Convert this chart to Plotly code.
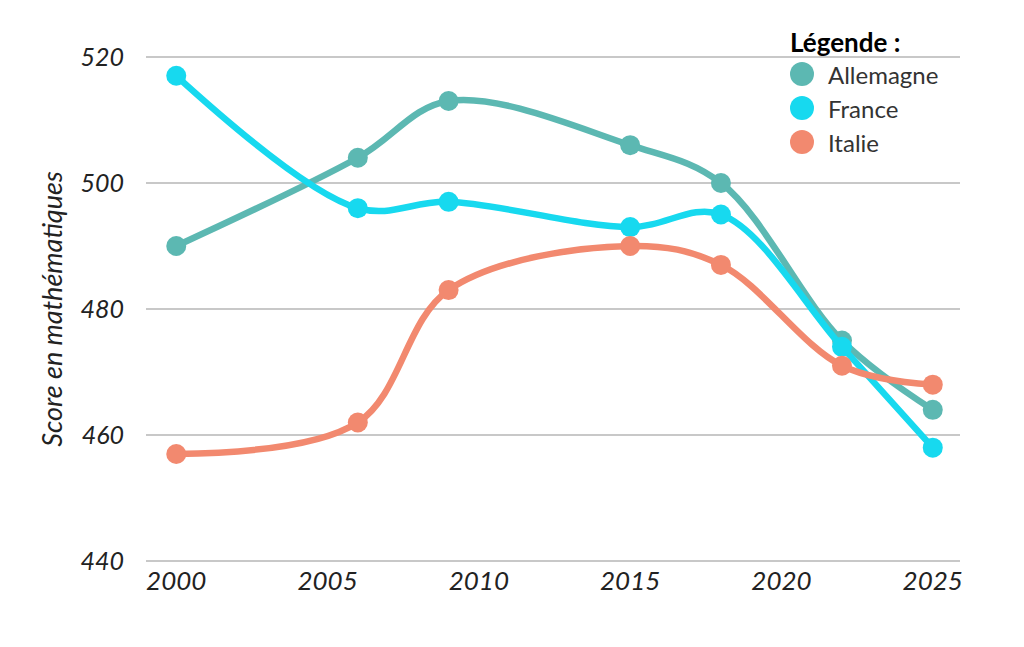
import plotly.graph_objects as go

years = [2000, 2006, 2009, 2015, 2018, 2022, 2025]
allemagne = [490, 504, 513, 506, 500, 475, 464]
france = [517, 496, 497, 493, 495, 474, 458]
italie = [457, 462, 483, 490, 487, 471, 468]

series = [
    ("Allemagne", allemagne, "#5cb8b2"),
    ("France", france, "#17d9ef"),
    ("Italie", italie, "#f2896f"),
]

x_ticks = [2000, 2005, 2010, 2015, 2020, 2025]
y_ticks = [440, 460, 480, 500, 520]

# plot area in figure pixels (page adds an 8px body margin)
L, R, T, B = 138, 952, 47, 555


def px_x(x):
    return (x - 8 - L) / (R - L)


def px_y(y):
    return (B - (y - 8)) / (B - T)


fig = go.Figure()
for name, vals, col in series:
    fig.add_trace(go.Scatter(
        x=years, y=vals, name=name, mode="lines+markers",
        line=dict(color=col, width=6.5, shape="spline", smoothing=1),
        marker=dict(color=col, size=20),
        cliponaxis=False, showlegend=False,
    ))

# legend drawn by hand so the circles can be large (positions are screen px)
fig.add_annotation(
    text="<b>Légende :</b>", x=px_x(788), y=px_y(42), xref="paper", yref="paper",
    xanchor="left", yanchor="middle", showarrow=False,
    font=dict(size=26, color="black", family="Lato"),
)
for i, (name, vals, col) in enumerate(series):
    cy = 74 + i * 34
    fig.add_shape(
        type="circle", xref="paper", yref="paper",
        x0=px_x(790), x1=px_x(814), y0=px_y(cy + 12), y1=px_y(cy - 12),
        fillcolor=col, line=dict(width=0),
    )
    fig.add_annotation(
        text=name, x=px_x(826), y=px_y(cy), xref="paper", yref="paper",
        xanchor="left", yanchor="middle", showarrow=False,
        font=dict(size=24, color="#333", family="Lato"),
    )

fig.update_layout(
    width=1024, height=647,
    margin=dict(l=L, r=1024 - R, t=T, b=647 - B, autoexpand=False),
    paper_bgcolor="white", plot_bgcolor="white",
    font=dict(family="Lato", color="#222"),
    xaxis=dict(
        range=[1999.0, 2025.9], tickvals=x_ticks, showgrid=False,
        zeroline=False, showline=False,
        tickfont=dict(size=26, family="Lato", style="italic", color="#222"),
        ticks="", ticklen=0,
    ),
    yaxis=dict(
        range=[439.7, 520.3], tickvals=y_ticks, showgrid=True,
        gridcolor="#c8c8c8", gridwidth=1.5, zeroline=False, showline=False,
        tickfont=dict(size=25, family="Lato", style="italic", color="#222"),
        ticks="outside", ticklen=16, tickcolor="rgba(0,0,0,0)",
        title=dict(text="Score en mathématiques", standoff=10,
                   font=dict(size=27, family="Lato", style="italic", color="#222")),
    ),
)

fig.write_html("out.html")
